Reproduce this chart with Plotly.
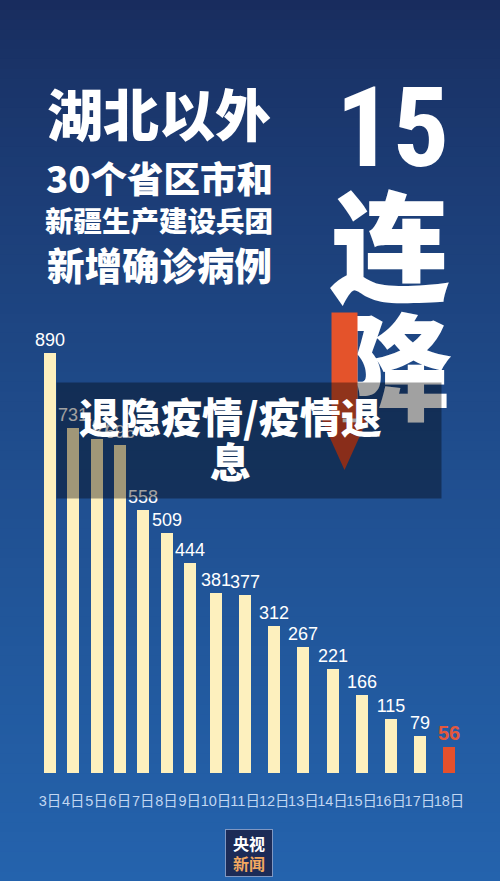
import plotly.graph_objects as go

# ---------------- data ----------------
dates = ["3日", "4日", "5日", "6日", "7日", "8日", "9日", "10日",
         "11日", "12日", "13日", "14日", "15日", "16日", "17日", "18日"]
cases = [890, 731, 707, 696, 558, 509, 444, 381,
         377, 312, 267, 221, 166, 115, 79, 56]

title_lines = ["湖北以外", "30个省区市和", "新疆生产建设兵团", "新增确诊病例"]
big_text = ["15", "连", "降"]
watermark_lines = ["退隐疫情/疫情退", "息"]

W, H = 500, 881

# x positions follow the width of each tick label (digits + the 日 glyph)
widths = [sum(c.isdigit() for c in d) + 3 for d in dates]
xpos = [0.0]
for i in range(1, len(dates)):
    xpos.append(xpos[-1] + (widths[i - 1] + widths[i]) / 2)

first_px, last_px = 50, 449
k = (last_px - first_px) / (xpos[-1] - xpos[0])
x_range = [xpos[0] - first_px / k, xpos[0] + (W - first_px) / k]

base_px = 773
bottom_margin = H - base_px
px_per_case = 420 / 890
y_range = [0, base_px / px_per_case]

cream = "#FDF0BE"
red = "#E5502C"
n = len(cases)
bar_colors = [cream] * (n - 1) + [red]
label_colors = ["#FFFFFF"] * (n - 1) + ["#E4583C"]
label_sizes = [18] * (n - 1) + [20]
label_weights = [400] * (n - 1) + [700]

fig = go.Figure()
fig.add_trace(go.Bar(
    x=xpos, y=cases, width=12 / k,
    marker=dict(color=bar_colors, line=dict(width=0)),
    text=[str(v) for v in cases], textposition="outside",
    constraintext="none", cliponaxis=False,
    textfont=dict(family="Liberation Sans, Arial, sans-serif", size=label_sizes,
                  color=label_colors, weight=label_weights),
    hoverinfo="skip",
))


# paper coords are relative to the plot area (0..500 x 0..773 px)
def P(px, py):
    return px / W, 1 - py / base_px


# ---------------- background gradient ----------------
top_c = (24, 43, 92)
bot_c = (36, 99, 173)
shapes = []
N = 90
for i in range(N):
    t = ((i + 0.5) / N) ** 0.75
    c = tuple(round(top_c[j] + (bot_c[j] - top_c[j]) * t) for j in range(3))
    _, y1 = P(0, H * i / N)
    _, y0 = P(0, H * (i + 1) / N + 2)
    shapes.append(dict(type="rect", xref="paper", yref="paper",
                       x0=-0.01, x1=1.01, y0=y0, y1=y1,
                       fillcolor="rgb(%d,%d,%d)" % c, line=dict(width=0),
                       layer="below"))

# arrow head (shaft is an annotation so it sits above the big glyph)
ax0, ay0 = P(321, 418)
ax1, _ = P(368, 418)
tx, ty = P(344.5, 470)
shapes.append(dict(type="path", xref="paper", yref="paper",
                   path="M %f,%f L %f,%f L %f,%f Z" % (ax0, ay0, ax1, ay0, tx, ty),
                   fillcolor="#D9482A", line=dict(width=0), layer="above"))

annotations = []
cjk = "Noto Sans CJK SC"


def ann(text, px, py, size, color="#FFFFFF", family=cjk, weight=900, **kw):
    x, y = P(px, py)
    d = dict(text=text, x=x, y=y, xref="paper", yref="paper",
             xanchor="center", yanchor="middle", showarrow=False,
             font=dict(family=family, size=size, color=color, weight=weight))
    d.update(kw)
    annotations.append(d)


# headline block
ann(title_lines[0], 159, 112, 56)
ann(title_lines[1], 159, 178, 36.5)
ann(title_lines[2], 159, 219, 28.5)
ann(title_lines[3], 159, 263, 37.5)

# big "15 连降"
ann(big_text[0], 392, 128, 112,
    family="Liberation Sans Narrow, Roboto Condensed, DejaVu Sans Condensed, sans-serif",
    weight=700)
ann(big_text[1], 390, 241, 120)
ann(big_text[2], 394, 360, 116)

# arrow shaft
ann(" ", 344.5, 365.5, 10, width=25, height=105, bgcolor="#E4532B",
    borderpad=0)

# dark overlay box, then watermark text
ann(" ", 249, 440.5, 10, width=384, height=115,
    bgcolor="rgba(0,0,0,0.37)", borderpad=0)
ann(watermark_lines[0], 230, 415, 41)
ann(watermark_lines[1], 230, 460, 41)

# logo
ann("央视<br><span style='color:#F2A860'>新闻</span>", 249, 853, 16,
    width=46, height=46, bgcolor="#1C2B57", bordercolor="#7F97C2",
    borderwidth=1, borderpad=0, weight=700)

fig.update_layout(
    width=W, height=H,
    margin=dict(l=0, r=0, t=0, b=bottom_margin, pad=0),
    paper_bgcolor="rgb(36,99,173)",
    plot_bgcolor="rgba(0,0,0,0)",
    showlegend=False,
    bargap=0,
    shapes=shapes,
    annotations=annotations,
    xaxis=dict(range=x_range, tickvals=xpos, ticktext=dates,
               showgrid=False, zeroline=False, showline=False,
               ticks="outside", ticklen=0, ticklabelstandoff=15,
               tickangle=0,
               tickfont=dict(family="Liberation Sans, Noto Sans CJK SC, sans-serif",
                             size=14.5, color="#C2D7F2"),
               fixedrange=True),
    yaxis=dict(range=y_range, visible=False, fixedrange=True),
)

fig.write_html("out.html", config={"displayModeBar": False},
               post_script="document.body.style.margin='0';"
                           "document.body.style.overflow='hidden';")
